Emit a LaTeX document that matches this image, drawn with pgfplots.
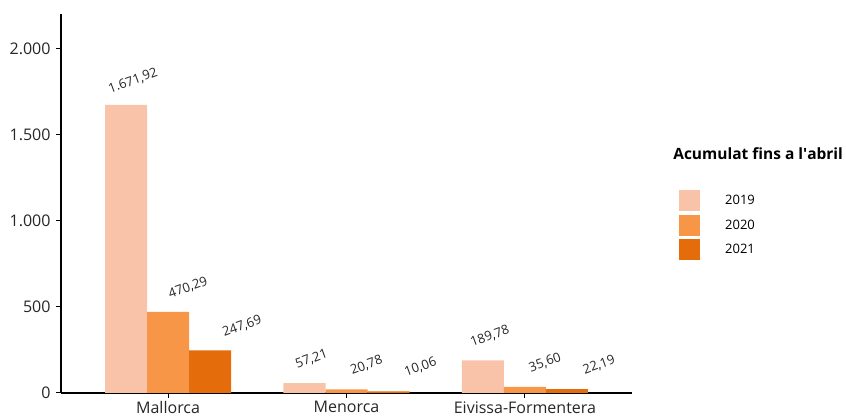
\documentclass[border=0pt]{standalone}
\usepackage{fontspec}
\setmainfont{Open Sans}
\usepackage{pgfplots}
\pgfplotsset{compat=1.18}

\definecolor{c2019}{HTML}{F9C3AA}
\definecolor{c2020}{HTML}{F79646}
\definecolor{c2021}{HTML}{E46C0A}

\begin{document}
\begin{tikzpicture}
\path[use as bounding box] (-61pt,-26pt) rectangle (785pt,393pt);
\begin{axis}[
    at={(0pt,0pt)}, anchor=south west,
    scale only axis,
    width=571pt, height=379pt,
    ybar=0pt, bar width=42pt,
    xmin=-0.6, xmax=2.6,
    ymin=0, ymax=2200,
    axis lines*=left,
    axis line style={black, line width=1.2pt},
    tick align=outside,
    major tick length=5pt,
    tick style={black, line width=1pt},
    xtick={0,1,2},
    xticklabels={Mallorca,Menorca,Eivissa-Formentera},
    ytick={0,500,1000,1500,2000},
    scaled y ticks=false,
    /pgf/number format/assume math mode=true,
    yticklabel style={/pgf/number format/1000 sep={.}, xshift=-2pt},
    tick label style={font=\fontsize{16}{19}\selectfont, text=black!85},
    nodes near coords={\pgfmathprintnumber[fixed, fixed zerofill, precision=2, use comma, 1000 sep={.}]{\pgfplotspointmeta}},
    every node near coord/.append style={font=\fontsize{13}{15}\selectfont, text=black!85, anchor=center, yshift=24pt},
    legend image code/.code={\fill[#1] (0pt,-10.5pt) rectangle (21pt,10.5pt);},
    legend style={at={(1.077,0.541)}, anchor=north west, draw=none, fill=none,
        font=\fontsize{13}{15}\selectfont, row sep=3.5pt, column sep=0pt,
        nodes={inner sep=0pt}},
    legend cell align=left,
    clip=false,
]
\addplot[fill=c2019, draw=none, every node near coord/.append style={xshift=7pt, rotate=20}]
    coordinates {(0,1671.92) (1,57.21) (2,189.78)};
\addlegendentry{\hspace{25pt}2019}
\addplot[fill=c2020, draw=none, every node near coord/.append style={xshift=20pt, rotate=20}]
    coordinates {(0,470.29) (1,20.78) (2,35.60)};
\addlegendentry{\hspace{25pt}2020}
\addplot[fill=c2021, draw=none, every node near coord/.append style={xshift=32pt, rotate=20}]
    coordinates {(0,247.69) (1,10.06) (2,22.19)};
\addlegendentry{\hspace{25pt}2021}
\node[anchor=base west, inner sep=0pt, font=\fontsize{15.5}{18}\selectfont\bfseries]
    at (axis description cs:1.072,0.615) {Acumulat fins a l\textquotesingle abril};
\end{axis}
\end{tikzpicture}
\end{document}
